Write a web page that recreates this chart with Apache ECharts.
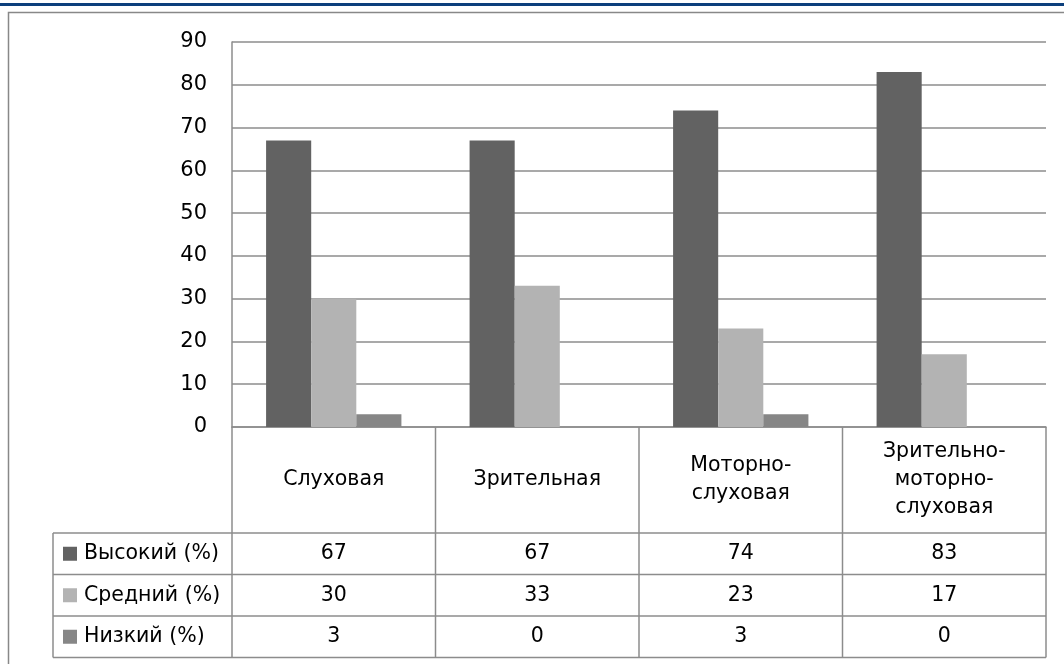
<!DOCTYPE html>
<html><head><meta charset="utf-8">
<script src="https://cdn.jsdelivr.net/npm/echarts@6/dist/echarts.min.js"></script>
<style>html,body{margin:0;padding:0;background:#fff}#c{width:1064px;height:664px}</style>
</head><body><div id="c"></div>
<script>
const categories = ['Слуховая', 'Зрительная', 'Моторно-\nслуховая', 'Зрительно-\nмоторно-\nслуховая'];
const seriesNames = ['Высокий (%)', 'Средний (%)', 'Низкий (%)'];
const high = [67, 67, 74, 83];
const mid = [30, 33, 23, 17];
const low = [3, 0, 3, 0];
const yTicks = [0, 10, 20, 30, 40, 50, 60, 70, 80, 90];

const colors = ['#626262', '#b3b3b3', '#868686'];
const FONT = 'DejaVu Sans';
const LINE = '#8c8c8c';
const seriesData = [high, mid, low];

const chart = echarts.init(document.getElementById('c'), null, {renderer: 'canvas'});
const gridL = 232, gridR = 18, gridT = 42, gridB = 237;
chart.setOption({
  animation: false,
  backgroundColor: '#fff',
  grid: {left: gridL, right: gridR, top: gridT, bottom: gridB, containLabel: false},
  xAxis: {
    type: 'category', data: categories,
    axisLine: {show: true, lineStyle: {color: LINE, width: 1.5}},
    axisTick: {show: false}, axisLabel: {show: false}
  },
  yAxis: {
    type: 'value', min: yTicks[0], max: yTicks[yTicks.length - 1], interval: 10,
    axisLine: {show: true, lineStyle: {color: LINE, width: 1.5}},
    axisTick: {show: false},
    axisLabel: {fontFamily: FONT, fontSize: 21, color: '#000', margin: 25},
    splitLine: {lineStyle: {color: LINE, width: 1.5}}
  },
  series: seriesData.map((d, i) => ({
    name: seriesNames[i], type: 'bar', data: d,
    barGap: '0%', barCategoryGap: '33.5%',
    itemStyle: {color: colors[i]}
  }))
});

// build data table
const g = [];
const y0 = chart.convertToPixel({yAxisIndex: 0}, 0);
const xL = gridL, xR = 1064 - gridR;
const catW = (xR - xL) / categories.length;
const headBottom = 533, rowH = 41.5, tableLeft = 53;
const tableBottom = headBottom + rowH * 3;
const ls = {stroke: LINE, lineWidth: 1.5};
const TS = 20.5;
// outer frame and top blue bar
g.push({type: 'rect', shape: {x: 8.5, y: 12.5, width: 1100, height: 700}, style: {fill: 'none', stroke: '#888', lineWidth: 1.5}, z: 0});
g.push({type: 'rect', shape: {x: 0, y: 3, width: 1064, height: 3}, style: {fill: '#0c3f7c'}});
// verticals
for (let i = 0; i <= categories.length; i++) {
  const x = xL + catW * i;
  g.push({type: 'line', shape: {x1: x, y1: y0, x2: x, y2: tableBottom}, style: ls});
}
g.push({type: 'line', shape: {x1: tableLeft, y1: headBottom, x2: tableLeft, y2: tableBottom}, style: ls});
for (let r = 0; r <= 3; r++) {
  const y = headBottom + rowH * r;
  g.push({type: 'line', shape: {x1: tableLeft, y1: y, x2: xR, y2: y}, style: ls});
}
// category headers
categories.forEach((c, i) => {
  const cx = chart.convertToPixel({xAxisIndex: 0}, i);
  g.push({type: 'text', x: cx, y: (y0 + headBottom) / 2, style: {text: c, fontFamily: FONT, fontSize: TS, fill: '#000', align: 'center', verticalAlign: 'middle', lineHeight: 28}});
});
// rows
seriesData.forEach((d, r) => {
  const cy = headBottom + rowH * r + rowH / 2;
  g.push({type: 'rect', shape: {x: 63, y: cy - 7, width: 14, height: 14}, style: {fill: colors[r]}});
  g.push({type: 'text', x: 84, y: cy, style: {text: seriesNames[r], fontFamily: FONT, fontSize: TS, fill: '#000', align: 'left', verticalAlign: 'middle'}});
  d.forEach((v, i) => {
    const cx = chart.convertToPixel({xAxisIndex: 0}, i);
    g.push({type: 'text', x: cx, y: cy, style: {text: String(v), fontFamily: FONT, fontSize: TS, fill: '#000', align: 'center', verticalAlign: 'middle'}});
  });
});
chart.setOption({graphic: {elements: g}});
</script></body></html>
